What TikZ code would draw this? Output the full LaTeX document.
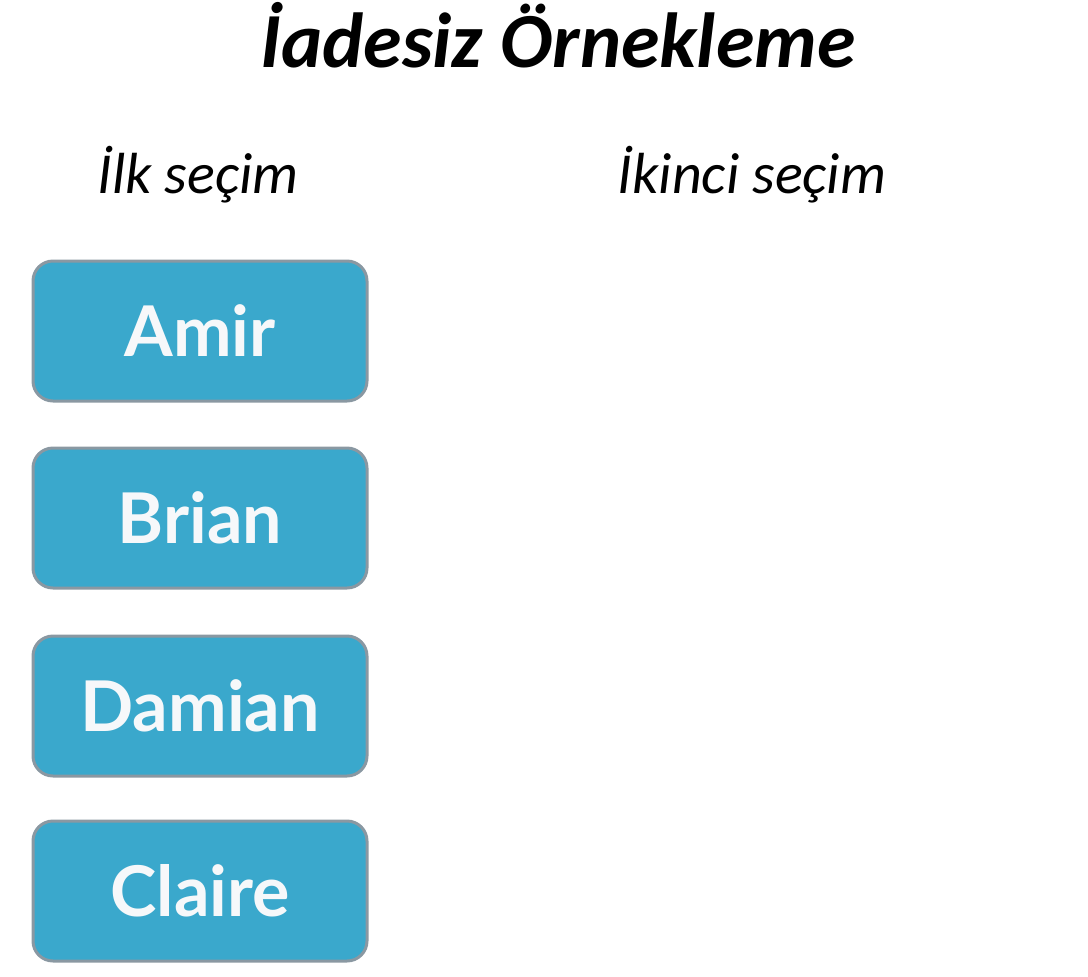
\documentclass[tikz,border=0pt]{standalone}
\usepackage{fontspec}
\setmainfont{Carlito}
\newfontfamily\namefont{Lato}
\definecolor{boxfill}{RGB}{58,168,204}
\definecolor{boxline}{RGB}{138,152,162}
\definecolor{namecolor}{RGB}{246,248,250}

\newlength{\du}
\setlength{\du}{0.5pt}

\tikzset{
  namebox/.style={draw=boxline, fill=boxfill, line width=3\du, rounded corners=20\du,
    minimum width=334\du, minimum height=140\du, inner sep=0pt,
    text=namecolor, font=\namefont\bfseries\fontsize{35pt}{39pt}\selectfont},
  header/.style={anchor=base, font=\itshape\fontsize{29pt}{33pt}\selectfont}
}

\begin{document}
\begin{tikzpicture}
\pgftransformyscale{-1.000000}
\useasboundingbox (0\du,0\du) rectangle (1088\du,976\du);
% title
\node[anchor=base, font=\bfseries\itshape\fontsize{39pt}{42pt}\selectfont] (title) at (558\du,67\du){İadesiz Örnekleme};
% column headers
\node[header] (first) at (198\du,193\du){İlk seçim};
\node[header] (second) at (752\du,193\du){İkinci seçim};
% names
\node[namebox] (amir) at (200\du,331\du){Amir};
\node[namebox] (brian) at (200\du,518\du){Brian};
\node[namebox] (damian) at (200\du,706\du){Damian};
\node[namebox] (claire) at (200\du,891\du){Claire};
\end{tikzpicture}
\end{document}
